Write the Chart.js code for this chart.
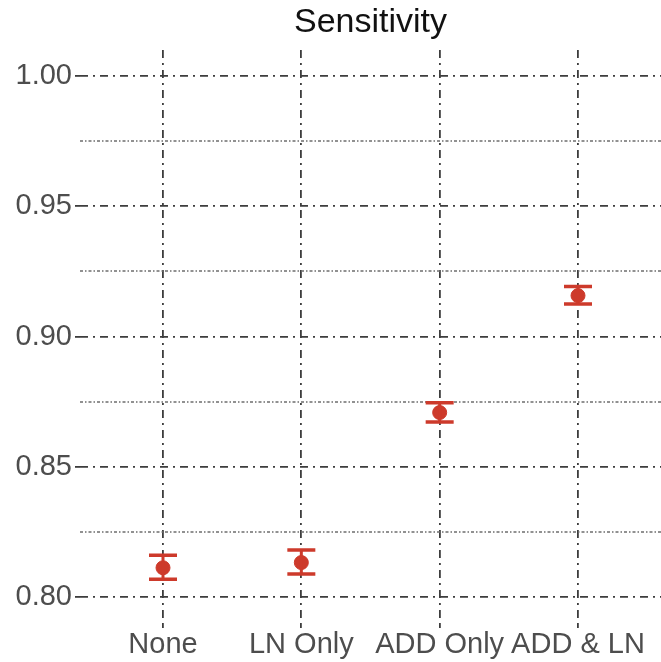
<!DOCTYPE html>
<html>
<head>
<meta charset="utf-8">
<script src="https://cdn.jsdelivr.net/npm/chart.js@4.4.0/dist/chart.umd.min.js"></script>
<style>
  body { margin: 0; background: #fff; }
  #wrap { width: 661px; height: 662px; }
</style>
</head>
<body>
<div id="wrap"><canvas id="sens" width="661" height="662"></canvas></div>
<script>
// data
var categories = ['None', 'LN Only', 'ADD Only', 'ADD & LN'];
var means = [0.8112, 0.8132, 0.8708, 0.9157];
var lower = [0.8068, 0.8088, 0.8672, 0.9125];
var upper = [0.8160, 0.8180, 0.8746, 0.9192];
var yTicks = [0.80, 0.85, 0.90, 0.95, 1.00];
var yMinor = [0.825, 0.875, 0.925, 0.975];

var red = '#cd3a2b';
var gridDark = '#3d3d3d';
var font = '"Liberation Sans", Arial, sans-serif';

var points = [];
for (var i = 0; i < categories.length; i++) {
  points.push({ x: i + 1, y: means[i] });
}

// minor horizontal grid lines (thin dash-dot)
var minorGrid = {
  id: 'minorGrid',
  beforeDatasetsDraw: function(chart) {
    var ctx = chart.ctx;
    var area = chart.chartArea;
    var y = chart.scales.y;
    ctx.save();
    ctx.strokeStyle = '#6e6e6e';
    ctx.lineWidth = 1.5;
    ctx.setLineDash([3, 2, 1.5, 2]);
    for (var i = 0; i < yMinor.length; i++) {
      var py = Math.round(y.getPixelForValue(yMinor[i]));
      ctx.beginPath();
      ctx.moveTo(area.left, py);
      ctx.lineTo(area.right, py);
      ctx.stroke();
    }
    ctx.restore();
  }
};

// error bars drawn through the scales
var errorBars = {
  id: 'errorBars',
  afterDatasetsDraw: function(chart) {
    var ctx = chart.ctx;
    var x = chart.scales.x;
    var y = chart.scales.y;
    ctx.save();
    ctx.strokeStyle = red;
    ctx.setLineDash([]);
    for (var i = 0; i < categories.length; i++) {
      var px = x.getPixelForValue(i + 1);
      var top = y.getPixelForValue(upper[i]);
      var bot = y.getPixelForValue(lower[i]);
      ctx.lineWidth = 3;
      ctx.beginPath();
      ctx.moveTo(px, top);
      ctx.lineTo(px, bot);
      ctx.stroke();
      ctx.lineWidth = 3.5;
      ctx.beginPath();
      ctx.moveTo(px - 14, top);
      ctx.lineTo(px + 14, top);
      ctx.moveTo(px - 14, bot);
      ctx.lineTo(px + 14, bot);
      ctx.stroke();
    }
    ctx.restore();
  }
};

var chart = new Chart(document.getElementById('sens').getContext('2d'), {
  type: 'scatter',
  data: {
    datasets: [{
      label: 'Sensitivity',
      data: points,
      backgroundColor: red,
      borderColor: red,
      pointRadius: 7,
      pointHoverRadius: 7
    }]
  },
  options: {
    responsive: false,
    animation: false,
    // no extra room for the point radius, panel runs to the edge
    layout: { padding: 0, autoPadding: false },
    plugins: {
      legend: { display: false },
      tooltip: { enabled: false },
      title: {
        display: true,
        fullSize: false,
        text: 'Sensitivity',
        color: '#111111',
        font: { family: font, size: 34, weight: 'normal', lineHeight: 1.2 },
        padding: { top: 2, bottom: 7.2 }
      }
    },
    scales: {
      x: {
        type: 'linear',
        min: 0.4,
        max: 4.6,
        afterBuildTicks: function(scale) {
          scale.ticks = categories.map(function(c, i) { return { value: i + 1 }; });
        },
        afterFit: function(scale) {
          scale.height = 39;
          scale.paddingLeft = 0;
          scale.paddingRight = 0;
        },
        ticks: {
          color: '#4d4d4d',
          padding: 0,
          font: { family: font, size: 29 },
          callback: function(v) { return categories[v - 1]; }
        },
        grid: {
          color: gridDark,
          lineWidth: 1.8,
          tickLength: 5,
          tickColor: gridDark
        },
        border: { display: false, dash: [8, 5, 2, 5] }
      },
      y: {
        min: 0.79,
        max: 1.01,
        afterBuildTicks: function(scale) {
          scale.ticks = yTicks.map(function(v) { return { value: v }; });
        },
        afterFit: function(scale) { scale.width = 80; },
        ticks: {
          color: '#4d4d4d',
          padding: 3,
          font: { family: font, size: 29 },
          callback: function(v) { return v.toFixed(2); }
        },
        grid: {
          color: gridDark,
          lineWidth: 1.8,
          tickLength: 5,
          tickColor: gridDark
        },
        border: { display: false, dash: [8, 5, 2, 5] }
      }
    }
  },
  plugins: [minorGrid, errorBars]
});
</script>
</body>
</html>
